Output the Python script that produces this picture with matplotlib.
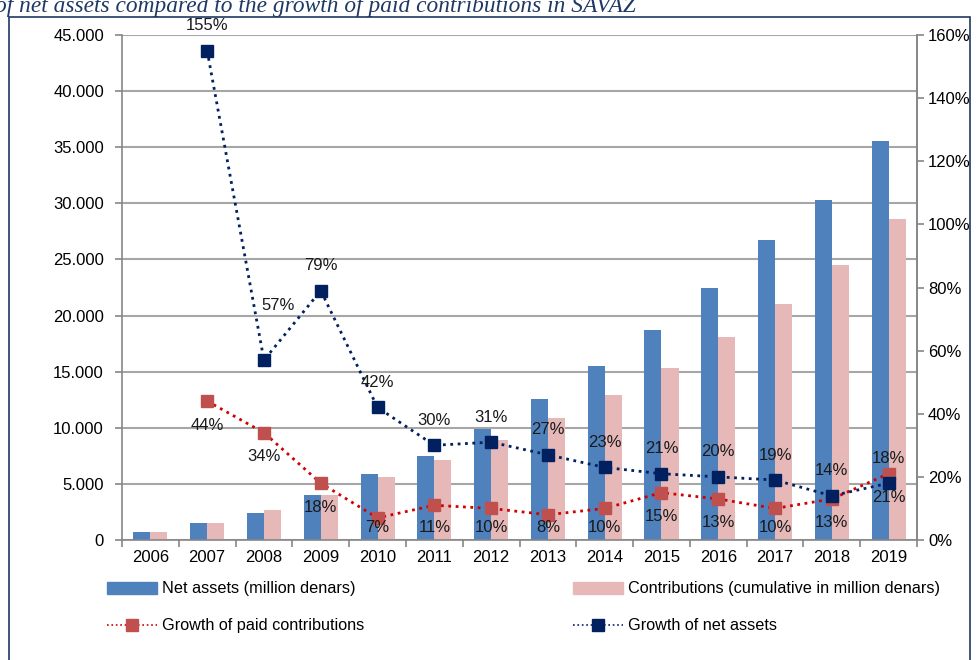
import matplotlib.pyplot as plt
import numpy as np
from matplotlib.patches import Rectangle
from matplotlib.lines import Line2D
from matplotlib.ticker import FuncFormatter

plt.rcParams['font.family'] = ['Liberation Sans', 'DejaVu Sans']

years = ['2006', '2007', '2008', '2009', '2010', '2011', '2012',
         '2013', '2014', '2015', '2016', '2017', '2018', '2019']
net_assets = [700, 1500, 2400, 4000, 5900, 7500, 9900,
              12550, 15500, 18700, 22450, 26700, 30300, 35550]
contributions = [700, 1500, 2650, 4000, 5600, 7100, 8900,
                 10850, 12900, 15300, 18100, 21000, 24500, 28600]
# growth series start in 2007
growth_contrib = [44, 34, 18, 7, 11, 10, 8, 10, 15, 13, 10, 13, 21]
growth_assets = [155, 57, 79, 42, 30, 31, 27, 23, 21, 20, 19, 14, 18]

blue = '#4F81BD'
pink = '#E6B9B8'
red_mk = '#C0504D'
red_ln = '#D00000'
navy = '#002060'
grid_c = '#A6A6A6'

fig = plt.figure(figsize=(9.8, 6.6), dpi=100)
ax = fig.add_axes([122 / 980, 1 - 540 / 660, (917 - 122) / 980, (540 - 35) / 660])

x = np.arange(len(years))
w = 0.3
ax.bar(x - w / 2, net_assets, w, color=blue, zorder=2)
ax.bar(x + w / 2, contributions, w, color=pink, zorder=2)

ax.set_xlim(-0.5, len(years) - 0.5)
ax.set_ylim(0, 45000)
ax.set_yticks(np.arange(0, 45001, 5000))
ax.yaxis.set_major_formatter(FuncFormatter(lambda v, p: f'{int(v):,}'.replace(',', '.')))
ax.yaxis.grid(True, color=grid_c, linewidth=1.5, zorder=0)
ax.set_axisbelow(True)
ax.set_xticks(x)
ax.set_xticklabels(years)
ax.set_xticks(np.arange(-0.5, len(years)), minor=True)
ax.tick_params(axis='x', which='major', length=0, labelsize=12, pad=7)
ax.tick_params(axis='x', which='minor', length=5, color='#868686', width=1.2)
ax.tick_params(axis='y', length=5, color='#868686', width=1.2, labelsize=12, pad=8)
ax.spines['top'].set_visible(False)
for s in ['left', 'bottom', 'right']:
    ax.spines[s].set_color('#868686')
    ax.spines[s].set_linewidth(1.2)

ax2 = ax.twinx()
ax2.set_ylim(0, 160)
ax2.set_yticks(np.arange(0, 161, 20))
ax2.yaxis.set_major_formatter(FuncFormatter(lambda v, p: f'{int(v)}%'))
ax2.tick_params(axis='y', length=5, color='#868686', width=1.2, labelsize=12, pad=3)
ax2.spines['top'].set_visible(False)
ax2.spines['right'].set_color('#868686')
ax2.spines['right'].set_linewidth(1.2)
ax2.spines['left'].set_visible(False)
ax2.spines['bottom'].set_visible(False)

xg = x[1:]
ax2.plot(xg, growth_contrib, linestyle=':', color=red_ln, linewidth=2,
         marker='s', markersize=8, markerfacecolor=red_mk, markeredgecolor=red_mk, zorder=3)
ax2.plot(xg, growth_assets, linestyle=':', color=navy, linewidth=2,
         marker='s', markersize=8, markerfacecolor=navy, markeredgecolor=navy, zorder=4)

# labels below red markers, kept inside the plot area like Excel does
for xi, v in zip(xg, growth_contrib):
    ax2.text(xi, max(v - 7.6, 4.0), f'{v}%', ha='center', va='center',
             fontsize=12, color='#1a1a1a', zorder=5)
for xi, v in zip(xg, growth_assets):
    off = (0, 18)
    if v == 57:
        off = (10, 39)
    ax2.annotate(f'{v}%', (xi, v), xytext=off, textcoords='offset points',
                 ha='center', va='center', fontsize=12, color='#1a1a1a', zorder=5)

handles = [
    Rectangle((0, 0), 1, 1, color=blue),
    Rectangle((0, 0), 1, 1, color=pink),
    Line2D([], [], linestyle=':', color=red_ln, linewidth=1.2, marker='s',
           markersize=8, markerfacecolor=red_mk, markeredgecolor=red_mk),
    Line2D([], [], linestyle=':', color=navy, linewidth=1.2, marker='s',
           markersize=8, markerfacecolor=navy, markeredgecolor=navy),
]
labels = ['Net assets (million denars)', 'Contributions (cumulative in million denars)',
          'Growth of paid contributions', 'Growth of net assets']
fig.legend(handles[0:1] + handles[2:3], labels[0:1] + labels[2:3],
           loc='upper left', bbox_to_anchor=(100 / 980, 1 - 575 / 660),
           frameon=False, fontsize=11.7, handlelength=3.1, handleheight=0.7,
           labelspacing=1.35, handletextpad=0.3, borderaxespad=0)
fig.legend(handles[1:2] + handles[3:4], labels[1:2] + labels[3:4],
           loc='upper left', bbox_to_anchor=(566 / 980, 1 - 575 / 660),
           frameon=False, fontsize=11.7, handlelength=3.1, handleheight=0.7,
           labelspacing=1.35, handletextpad=0.3, borderaxespad=0)

# outer frame and cropped title
fig.patches.append(Rectangle((9 / 980, -0.1), (970 - 9) / 980, 1.1 - 17 / 660,
                             transform=fig.transFigure, fill=False,
                             edgecolor='#1F3864', linewidth=1.2))
fig.text(-5 / 980, 1 - 12 / 660, 'of net assets compared to the growth of paid contributions in SAVAZ',
         family='Liberation Serif', style='italic', fontsize=16.8, color='#1F3864',
         ha='left', va='baseline')

fig.savefig('out.png', dpi=100)
